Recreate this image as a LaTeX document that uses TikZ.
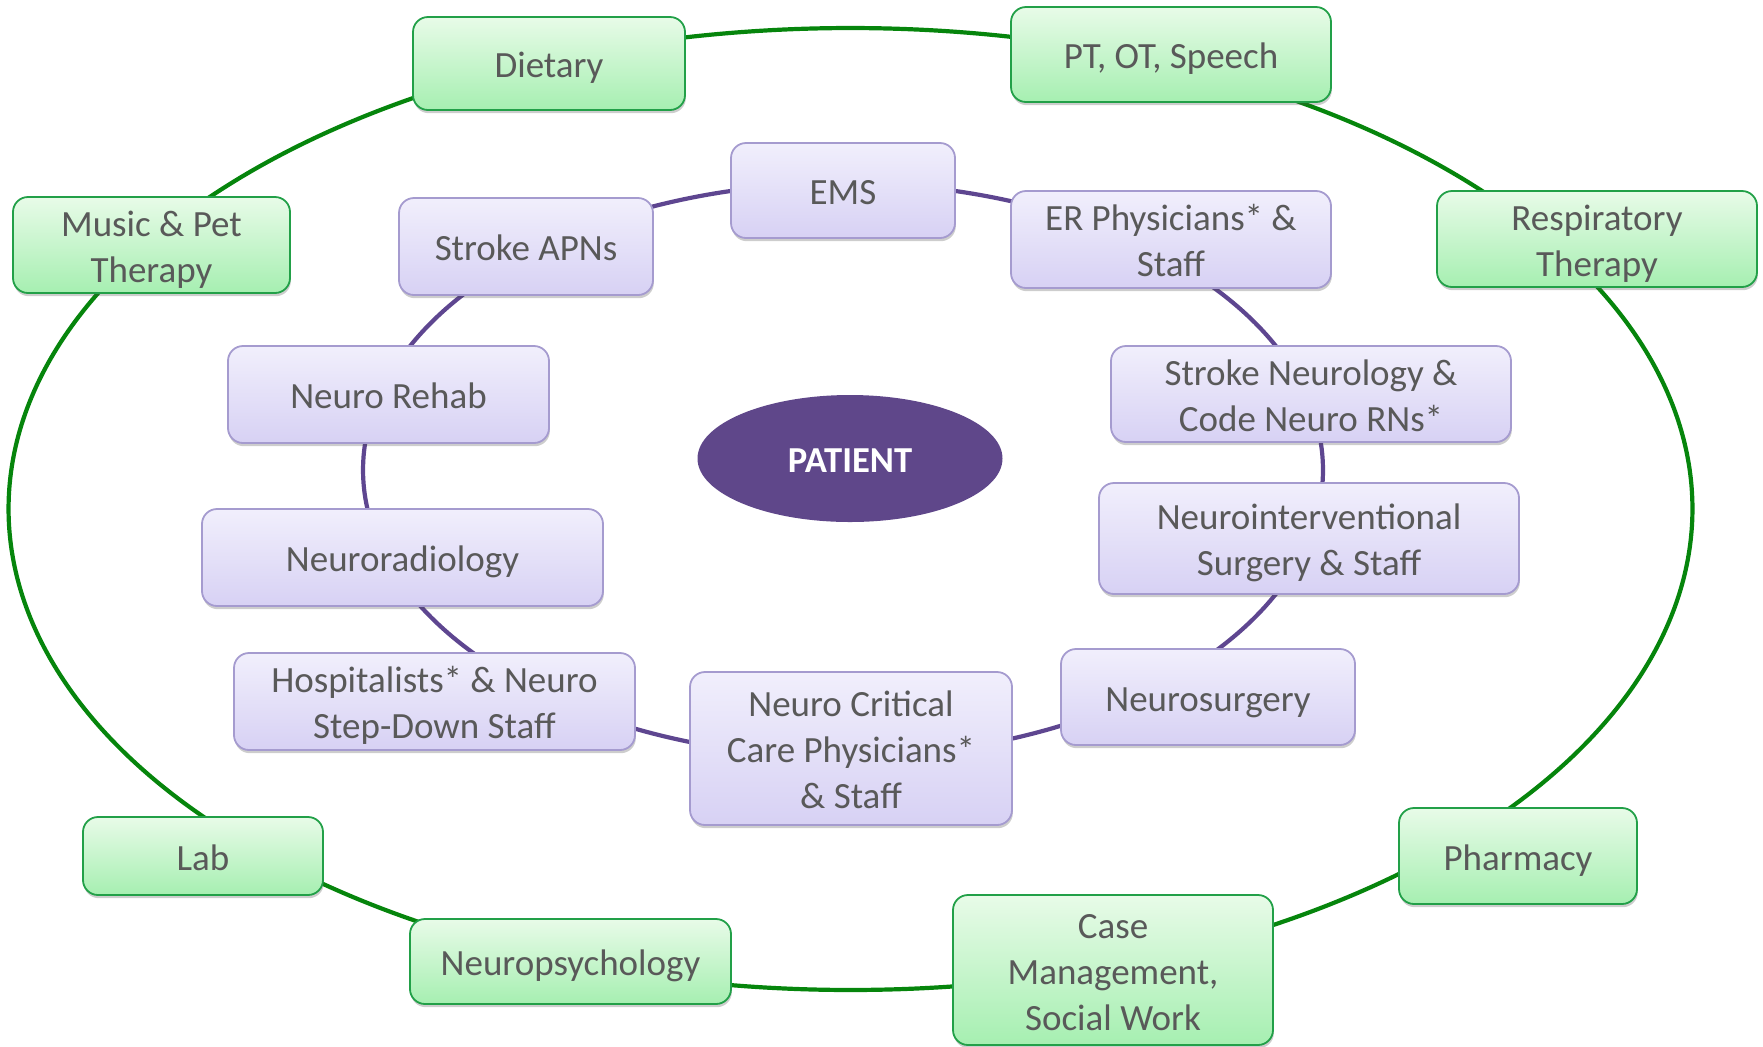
\documentclass[tikz,border=0pt]{standalone}
\usepackage{fontspec}
\setmainfont{Carlito}
\usetikzlibrary{shapes.geometric,shadows,backgrounds,calc}
\definecolor{txt}{HTML}{595959}
\definecolor{gtop}{HTML}{E8FBE8}
\definecolor{gbot}{HTML}{A6EFB1}
\definecolor{gborder}{HTML}{22A048}
\definecolor{gline}{HTML}{06850C}
\definecolor{ptop}{HTML}{F1EFFC}
\definecolor{pbot}{HTML}{D7D1F4}
\definecolor{pborder}{HTML}{A59BCF}
\definecolor{pline}{HTML}{5E4690}
\definecolor{pfill}{HTML}{5F478A}
\newcommand\tstrut{\rule{0pt}{19pt}}
\newcommand\bstrut{\rule[-5pt]{0pt}{5pt}}
\newcommand\bx[1]{\tstrut#1\bstrut}
\newcommand\ringarc[7]{%
 \draw[#1] let \p1=(#2), \p2=(#3),
   \n1={scalar(atan2(scalar((\y1-(#5pt))/(#7pt)),scalar((\x1-(#4pt))/(#6pt))))},
   \n2={scalar(atan2(scalar((\y2-(#5pt))/(#7pt)),scalar((\x2-(#4pt))/(#6pt))))},
   \n3={scalar(\n2+360*(\n2<\n1))}
 in ({(#4pt)+(#6pt)*cos(\n1)},{(#5pt)+(#7pt)*sin(\n1)}) arc[start angle=\n1, end angle=\n3, x radius=#6pt, y radius=#7pt];}
\tikzset{
 boxbase/.style={rounded corners=7.5pt, line width=0.9pt, text=txt, align=center, inner sep=0pt,
   font=\fontsize{18.5pt}{23pt}\selectfont,
   drop shadow={shadow xshift=0.4pt, shadow yshift=-1.6pt, opacity=0.28, fill=black!70}},
 gbox/.style={boxbase, draw=gborder, top color=gtop, bottom color=gbot},
 pbox/.style={boxbase, draw=pborder, top color=ptop, bottom color=pbot},
 glink/.style={draw=gline, line width=2.1pt},
 plink/.style={draw=pline, line width=2.1pt},
}
\begin{document}
\begin{tikzpicture}[x=0.5pt,y=-0.5pt]
\useasboundingbox (0,0) rectangle (1763,1046);
% outer (green) nodes
\node[gbox, minimum width=136pt, minimum height=46.5pt] (diet) at (549,63.5) {\bx{Dietary}};
\node[gbox, minimum width=160pt, minimum height=47.5pt] (ptot) at (1171,54.5) {\bx{PT, OT, Speech}};
\node[gbox, minimum width=138.5pt, minimum height=48pt] (music) at (151.5,245) {\bx{Music \& Pet\\Therapy}};
\node[gbox, minimum width=160pt, minimum height=48pt] (resp) at (1597,239) {\bx{Respiratory\\Therapy}};
\node[gbox, minimum width=120pt, minimum height=39pt] (lab) at (203,856) {\bx{Lab}};
\node[gbox, minimum width=160.5pt, minimum height=42.5pt] (npsy) at (570.5,961.5) {\bx{Neuropsychology}};
\node[gbox, minimum width=160pt, minimum height=75pt] (case) at (1113,970) {\bx{Case\\Management,\\Social Work}};
\node[gbox, minimum width=119pt, minimum height=48pt] (pharm) at (1518,856) {\bx{Pharmacy}};
% inner (purple) nodes
\node[pbox, minimum width=112pt, minimum height=47.5pt] (ems) at (843,190.5) {\bx{EMS}};
\node[pbox, minimum width=127pt, minimum height=48.5pt] (apn) at (526,246.5) {\bx{Stroke APNs}};
\node[pbox, minimum width=160pt, minimum height=48.5pt] (er) at (1171,239.5) {\bx{ER Physicians* \&\\Staff}};
\node[pbox, minimum width=160.5pt, minimum height=48.5pt] (rehab) at (388.5,394.5) {\bx{Neuro Rehab}};
\node[pbox, minimum width=200pt, minimum height=48pt] (sneuro) at (1311,394) {\bx{Stroke Neurology \&\\Code Neuro RNs*}};
\node[pbox, minimum width=200.5pt, minimum height=48.5pt] (nrad) at (402.5,557.5) {\bx{Neuroradiology}};
\node[pbox, minimum width=210pt, minimum height=55.5pt] (nint) at (1309,538.5) {\bx{Neurointerventional\\Surgery \& Staff}};
\node[pbox, minimum width=200.5pt, minimum height=48.5pt] (hosp) at (434.5,701.5) {\bx{Hospitalists* \& Neuro\\Step-Down Staff}};
\node[pbox, minimum width=161pt, minimum height=76.5pt] (ncc) at (851,748.5) {\bx{Neuro Critical\\Care Physicians*\\\& Staff}};
\node[pbox, minimum width=147pt, minimum height=48pt] (nsurg) at (1208,697) {\bx{Neurosurgery}};
% centre
\node[ellipse, fill=pfill, minimum width=152.5pt, minimum height=63.5pt, inner sep=0pt,
  text height=14.2pt, text depth=0pt,
  text=white, font=\fontsize{18.3pt}{21pt}\selectfont\bfseries] (patient) at (850,458.5) {PATIENT};
% rings
\begin{scope}[on background layer]
\ringarc{glink}{ptot}{diet}{425.25}{-254.5}{421}{240.5}
\ringarc{glink}{diet}{music}{425.25}{-254.5}{421}{240.5}
\ringarc{glink}{music}{lab}{425.25}{-254.5}{421}{240.5}
\ringarc{glink}{lab}{npsy}{425.25}{-254.5}{421}{240.5}
\ringarc{glink}{npsy}{case}{425.25}{-254.5}{421}{240.5}
\ringarc{glink}{case}{pharm}{425.25}{-254.5}{421}{240.5}
\ringarc{glink}{pharm}{resp}{425.25}{-254.5}{421}{240.5}
\ringarc{glink}{resp}{ptot}{425.25}{-254.5}{421}{240.5}
\ringarc{plink}{er}{ems}{421.5}{-235}{240}{143.5}
\ringarc{plink}{ems}{apn}{421.5}{-235}{240}{143.5}
\ringarc{plink}{apn}{rehab}{421.5}{-235}{240}{143.5}
\ringarc{plink}{rehab}{nrad}{421.5}{-235}{240}{143.5}
\ringarc{plink}{nrad}{hosp}{421.5}{-235}{240}{143.5}
\ringarc{plink}{hosp}{ncc}{421.5}{-235}{240}{143.5}
\ringarc{plink}{ncc}{nsurg}{421.5}{-235}{240}{143.5}
\ringarc{plink}{nsurg}{nint}{421.5}{-235}{240}{143.5}
\ringarc{plink}{nint}{sneuro}{421.5}{-235}{240}{143.5}
\ringarc{plink}{sneuro}{er}{421.5}{-235}{240}{143.5}
\end{scope}
\end{tikzpicture}
\end{document}
